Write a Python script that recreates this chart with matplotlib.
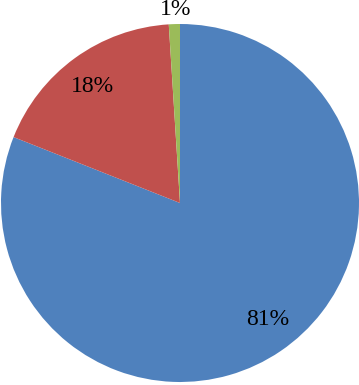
import numpy as np
import matplotlib.pyplot as plt

plt.rcParams['font.family'] = ['Liberation Serif', 'DejaVu Serif']

values = [81, 18, 1]
labels = ['81%', '18%', '1%']
colors = ['#4F81BD', '#C0504D', '#9BBB59']

W, H = 359, 385
cx, cy, r = 180, 182, 179  # pixels, from bottom-left

fig = plt.figure(figsize=(W / 100, H / 100), dpi=100)
ax = fig.add_axes([0, 0, 1, 1])

wedges, texts = ax.pie(values, colors=colors, startangle=90, counterclock=False,
                       radius=1.0, labels=labels, labeldistance=0.815,
                       textprops=dict(fontsize=17, color='black'),
                       wedgeprops=dict(linewidth=0))

# label placement (angle in degrees, distance in radii)
spots = [(-53, 0.815), (127, 0.815), (91.2, 1.08)]
for t, (a, d) in zip(texts, spots):
    a = np.deg2rad(a)
    t.set_position((d * np.cos(a), d * np.sin(a)))
    t.set_ha('center')
    t.set_va('center')

ax.set_aspect('auto')
ax.set_xlim(-cx / r, (W - cx) / r)
ax.set_ylim(-cy / r, (H - cy) / r)
ax.axis('off')

fig.savefig('out.png', dpi=100)
